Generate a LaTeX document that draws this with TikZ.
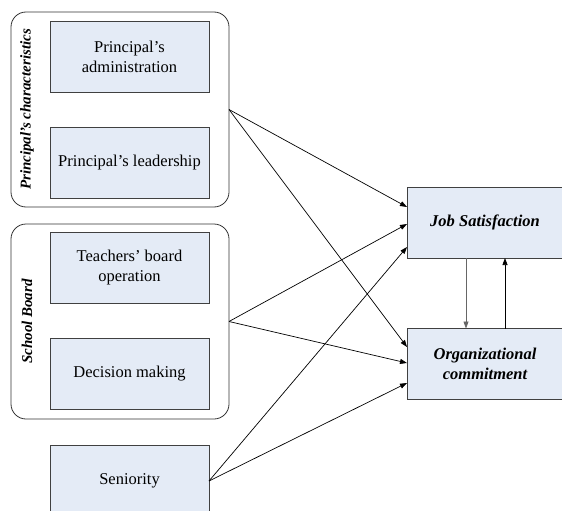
\documentclass[tikz,border=0pt]{standalone}
\usepackage{fontspec}
\setmainfont{Liberation Serif}
\usetikzlibrary{arrows.meta,calc}
\definecolor{boxfill}{RGB}{228,235,246}

\begin{document}
\begin{tikzpicture}[y=1pt, x=1pt, yscale=-1, inner sep=0pt, outer sep=0pt,
  varbox/.style={draw=black!75, line width=0.8pt, fill=boxfill, minimum width=159pt, minimum height=71pt, align=center, font=\fontsize{16.5}{20}\selectfont},
  outbox/.style={varbox, minimum width=156pt, font=\fontsize{16.5}{20}\selectfont\bfseries\itshape},
  groupbox/.style={draw=black!80, line width=0.8pt, rounded corners=15pt, minimum width=218pt, minimum height=195pt},
  grouplabel/.style={rotate=90, font=\fontsize{15}{18}\selectfont\bfseries\itshape},
  link/.style={draw=black, line width=0.7pt, -{Triangle[length=7pt,width=5pt]}}]

  \useasboundingbox (0,0) rectangle (562,511);
  \clip (0,0) rectangle (562,511);

  % principal group
  \node[groupbox] (princ) at (120,109.5) {};
  \node[grouplabel] (princlabel) at (27,109.5) {Principal’s characteristics};
  \node[varbox] (admin) at (129.5,56.5) {Principal’s\\administration};
  \node[varbox] (lead) at (129.5,163) {Principal’s leadership};

  % school board group
  \node[groupbox] (board) at (120,321.5) {};
  \node[grouplabel] (boardlabel) at (27,321.5) {School Board};
  \node[varbox] (oper) at (129.5,268) {Teachers’ board\\operation};
  \node[varbox] (decis) at (129.5,374) {Decision making};

  % seniority
  \node[varbox] (senior) at (129.5,481) {Seniority};

  % outcomes
  \node[outbox] (job) at (485,222.5) {Job Satisfaction};
  \node[outbox] (org) at (485,364) {Organizational\\commitment};

  % links to outcomes
  \draw[link] (princ.east) -- ($(job.west)+(0,-15.5)$);
  \draw[link] (princ.east) -- ($(org.west)+(0,-17)$);
  \draw[link] (board.east) -- ($(job.west)+(0,1.5)$);
  \draw[link] (board.east) -- ($(org.west)+(0,-1)$);
  \draw[link] (senior.east) -- ($(job.west)+(0,24.5)$);
  \draw[link] (senior.east) -- ($(org.west)+(0,19)$);

  % between outcomes
  \draw[link, draw=black!60] ($(job.south)+(-19,0)$) -- ($(org.north)+(-19,0)$);
  \draw[link] ($(org.north)+(20,0)$) -- ($(job.south)+(20,0)$);

\end{tikzpicture}
\end{document}
